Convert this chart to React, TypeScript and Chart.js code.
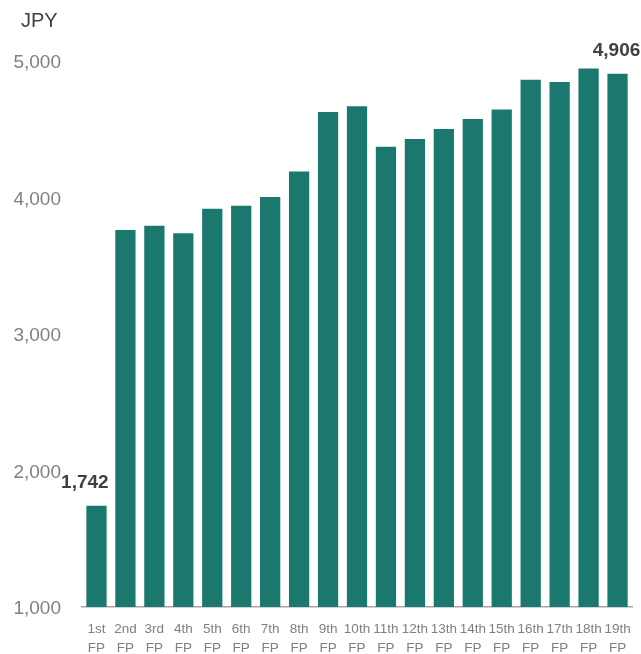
import React, { useEffect, useRef } from "react";
import { Chart, registerables } from "chart.js";

Chart.register(...registerables);

const periods = ["1st", "2nd", "3rd", "4th", "5th", "6th", "7th", "8th", "9th", "10th", "11th", "12th", "13th", "14th", "15th", "16th", "17th", "18th", "19th"];
const periodSuffix = "FP";
const values = [1742, 3761, 3793, 3739, 3917, 3939, 4003, 4191, 4626, 4668, 4372, 4429, 4502, 4576, 4644, 4862, 4847, 4945, 4906];
const labeledIndexes = [0, 18];
const unitLabel = "JPY";
const yMin = 1000;
const yMax = 5000;
const yStep = 1000;

const BAR_COLOR = "#1b786f";
const FONT = "'Liberation Sans', Arial, sans-serif";

export default function App() {
  const ref = useRef<HTMLCanvasElement | null>(null);

  useEffect(() => {
    document.body.style.margin = "0";
    const canvas = ref.current;
    if (!canvas) return;

    const labelPlugin = {
      id: "valueLabels",
      afterDatasetsDraw(chart: any) {
        const ctx = chart.ctx;
        const meta = chart.getDatasetMeta(0);
        ctx.save();
        ctx.font = `bold 19px ${FONT}`;
        ctx.fillStyle = "#404040";
        ctx.textBaseline = "alphabetic";
        labeledIndexes.forEach((i, k) => {
          const el = meta.data[i];
          if (!el) return;
          const txt = values[i].toLocaleString("en-US");
          if (k === 0) {
            ctx.textAlign = "right";
            ctx.fillText(txt, el.x + el.width / 2 + 2, el.y - 18);
          } else {
            ctx.textAlign = "center";
            ctx.fillText(txt, el.x - 1, el.y - 18);
          }
        });
        ctx.font = `20px ${FONT}`;
        ctx.textAlign = "left";
        ctx.textBaseline = "middle";
        ctx.fillText(unitLabel, 21, 21);
        ctx.restore();
      },
    };

    const chart = new Chart(canvas, {
      type: "bar",
      data: {
        labels: periods.map((p) => [p, periodSuffix]),
        datasets: [
          {
            data: values,
            backgroundColor: BAR_COLOR,
            borderWidth: 0,
            barPercentage: 0.7,
            categoryPercentage: 1,
          },
        ],
      },
      options: {
        responsive: false,
        maintainAspectRatio: false,
        animation: false,
        layout: { padding: { top: 61, right: 9, left: 0, bottom: 0 } },
        plugins: {
          legend: { display: false },
          tooltip: { enabled: false },
          title: { display: false },
        },
        scales: {
          x: {
            grid: { display: false, drawTicks: false },
            border: { display: true, color: "#a6a6a6", width: 1.5 },
            ticks: {
              color: "#808080",
              font: { family: FONT, size: 13.5, lineHeight: 1.45 },
              padding: 12,
              maxRotation: 0,
              minRotation: 0,
              autoSkip: false,
            },
            afterFit(scale: any) {
              scale.height = 47;
              scale.paddingLeft = 0;
              scale.paddingRight = 0;
            },
          },
          y: {
            min: yMin,
            max: yMax,
            grid: { display: false, drawTicks: false },
            border: { display: false },
            ticks: {
              stepSize: yStep,
              color: "#808080",
              font: { family: FONT, size: 19 },
              padding: 21,
              labelOffset: 2,
              callback: (v: any) => Number(v).toLocaleString("en-US"),
            },
            afterFit(scale: any) {
              scale.width = 82;
              scale.paddingTop = 0;
              scale.paddingBottom = 0;
            },
          },
        },
      },
      plugins: [labelPlugin],
    });

    return () => chart.destroy();
  }, []);

  return (
    <div style={{ width: 641, height: 654 }}>
      <canvas ref={ref} width={641} height={654} style={{ display: "block" }} />
    </div>
  );
}
